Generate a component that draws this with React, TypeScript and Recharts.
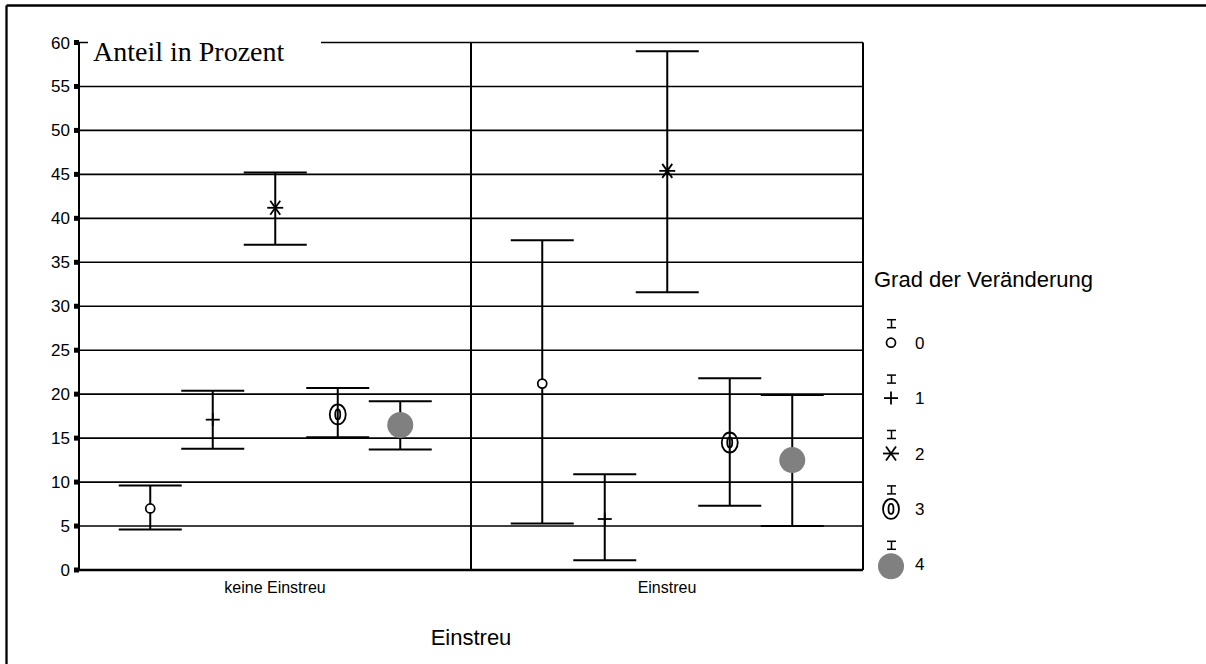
import { BarChart, Bar, XAxis, YAxis, CartesianGrid, ErrorBar, LabelList, Legend } from "recharts"

const categories = ["keine Einstreu", "Einstreu"]
const grades = ["0", "1", "2", "3", "4"]
const yTicks = [0, 5, 10, 15, 20, 25, 30, 35, 40, 45, 50, 55, 60]

// mean and interval per grade (0..4)
const keineMean = [7.0, 17.1, 41.2, 17.7, 16.5]
const keineLow = [4.6, 13.8, 37.0, 15.1, 13.7]
const keineHigh = [9.6, 20.4, 45.2, 20.7, 19.2]

const einMean = [21.2, 5.8, 45.4, 14.5, 12.5]
const einLow = [5.3, 1.1, 31.6, 7.3, 5.0]
const einHigh = [37.5, 10.9, 59.0, 21.8, 19.9]

const sans = "'Liberation Sans', Arial, sans-serif"
const serif = "'Liberation Serif', 'Times New Roman', serif"

const meanSets = [keineMean, einMean]
const lowSets = [keineLow, einLow]
const highSets = [keineHigh, einHigh]

const data = categories.map((cat, ci) => {
  const row: Record<string, any> = { cat }
  grades.forEach((_, gi) => {
    const m = meanSets[ci][gi]
    row["g" + gi] = m
    row["e" + gi] = [m - lowSets[ci][gi], highSets[ci][gi] - m]
  })
  return row
})

function Marker({ grade, cx, cy }: { grade: number; cx: number; cy: number }) {
  const sw = 1.8
  if (grade === 0) {
    return <circle cx={cx} cy={cy} r={4.5} fill="#fff" stroke="#000" strokeWidth={1.7} />
  }
  if (grade === 1) {
    return (
      <g stroke="#000" strokeWidth={sw}>
        <line x1={cx - 7} y1={cy} x2={cx + 7} y2={cy} />
        <line x1={cx} y1={cy - 6.5} x2={cx} y2={cy + 6.5} />
      </g>
    )
  }
  if (grade === 2) {
    return (
      <g stroke="#000" strokeWidth={sw}>
        <line x1={cx - 8} y1={cy} x2={cx + 8} y2={cy} />
        <line x1={cx - 5} y1={cy - 7} x2={cx + 5} y2={cy + 7} />
        <line x1={cx + 5} y1={cy - 7} x2={cx - 5} y2={cy + 7} />
      </g>
    )
  }
  if (grade === 3) {
    return (
      <g stroke="#000" strokeWidth={sw} fill="none">
        <ellipse cx={cx} cy={cy} rx={8} ry={10} />
        <ellipse cx={cx} cy={cy} rx={2.5} ry={5} />
      </g>
    )
  }
  return <circle cx={cx} cy={cy} r={13} fill="#808080" />
}

const markerLabel = (grade: number) => (props: any) => {
  const vb = props.viewBox ?? props
  const x = vb.x ?? props.x
  const y = vb.y ?? props.y
  const w = vb.width ?? props.width
  return <Marker grade={grade} cx={x + w / 2} cy={y} />
}

const renderLegend = (props: any) => {
  const items = props.payload ?? []
  return (
    <svg width={280} height={330}>
      <text x={14} y={27} fontSize={22} fontFamily={sans} fill="#000">
        Grad der Veränderung
      </text>
      {items.map((it: any, i: number) => {
        const cy = 82.7 + i * 55.4
        return (
          <g key={i}>
            <g stroke="#000" strokeWidth={1.5}>
              <line x1={27} y1={cy - 23} x2={36} y2={cy - 23} />
              <line x1={31.5} y1={cy - 23} x2={31.5} y2={cy - 15} />
              <line x1={27} y1={cy - 15} x2={36} y2={cy - 15} />
            </g>
            <Marker grade={i} cx={31} cy={i === 4 ? cy + 2 : cy} />
            <text x={55} y={cy + 6} fontSize={17} fontFamily={sans} fill="#000">
              {it.value}
            </text>
          </g>
        )
      })}
    </svg>
  )
}

export default function App() {
  return (
    <div style={{ position: "relative", width: 1206, height: 664, background: "#fff" }}>
      <style>{"body{margin:0}"}</style>
      <BarChart
        width={1206}
        height={664}
        data={data}
        margin={{ top: 42.5, right: 343, bottom: 0, left: 0 }}
        barSize={62.5}
        barGap={0}
      >
        <CartesianGrid vertical={false} stroke="#000" strokeWidth={1.6} />
        <CartesianGrid
          horizontal={false}
          stroke="#000"
          strokeWidth={2}
          verticalCoordinatesGenerator={({ offset }: any) =>
            categories.map((_, i) => offset.left + (offset.width * (i + 1)) / categories.length)
          }
        />
        <XAxis
          dataKey="cat"
          height={94}
          axisLine={{ stroke: "#000", strokeWidth: 2.5 }}
          tickLine={false}
          tickSize={0}
          tickMargin={12}
          tick={{ fill: "#000", fontSize: 16, fontFamily: sans }}
          label={{ value: "Einstreu", position: "insideBottom", offset: 19, fontSize: 22, fontFamily: sans, fill: "#000" }}
        />
        <YAxis
          domain={[0, 60]}
          ticks={yTicks}
          interval={0}
          width={79}
          axisLine={{ stroke: "#000", strokeWidth: 2 }}
          tickLine={{ stroke: "#000", strokeWidth: 5 }}
          tickSize={5}
          tickMargin={4}
          tick={{ fill: "#000", fontSize: 17, fontFamily: sans }}
        />
        <Legend
          layout="vertical"
          align="center"
          verticalAlign="middle"
          wrapperStyle={{ left: 860, top: 260, width: 280 }}
          content={renderLegend}
        />
        {grades.map((g, gi) => (
          <Bar key={g} dataKey={"g" + gi} name={g} fill="transparent" isAnimationActive={false}>
            <ErrorBar dataKey={"e" + gi} width={31.5} stroke="#000" strokeWidth={2} />
            <LabelList dataKey={"g" + gi} content={markerLabel(gi)} />
          </Bar>
        ))}
      </BarChart>
      <svg
        width={1206}
        height={664}
        style={{ position: "absolute", left: 0, top: 0, pointerEvents: "none" }}
      >
        <line x1={6.5} y1={5.5} x2={1206} y2={5.5} stroke="#000" strokeWidth={2.3} />
        <line x1={6.5} y1={5.5} x2={6.5} y2={664} stroke="#000" strokeWidth={2.3} />
        <rect x={88} y={36} width={233} height={34} fill="#fff" />
        <text x={93} y={61} fontSize={28} fontFamily={serif} fill="#000">
          Anteil in Prozent
        </text>
      </svg>
    </div>
  )
}
